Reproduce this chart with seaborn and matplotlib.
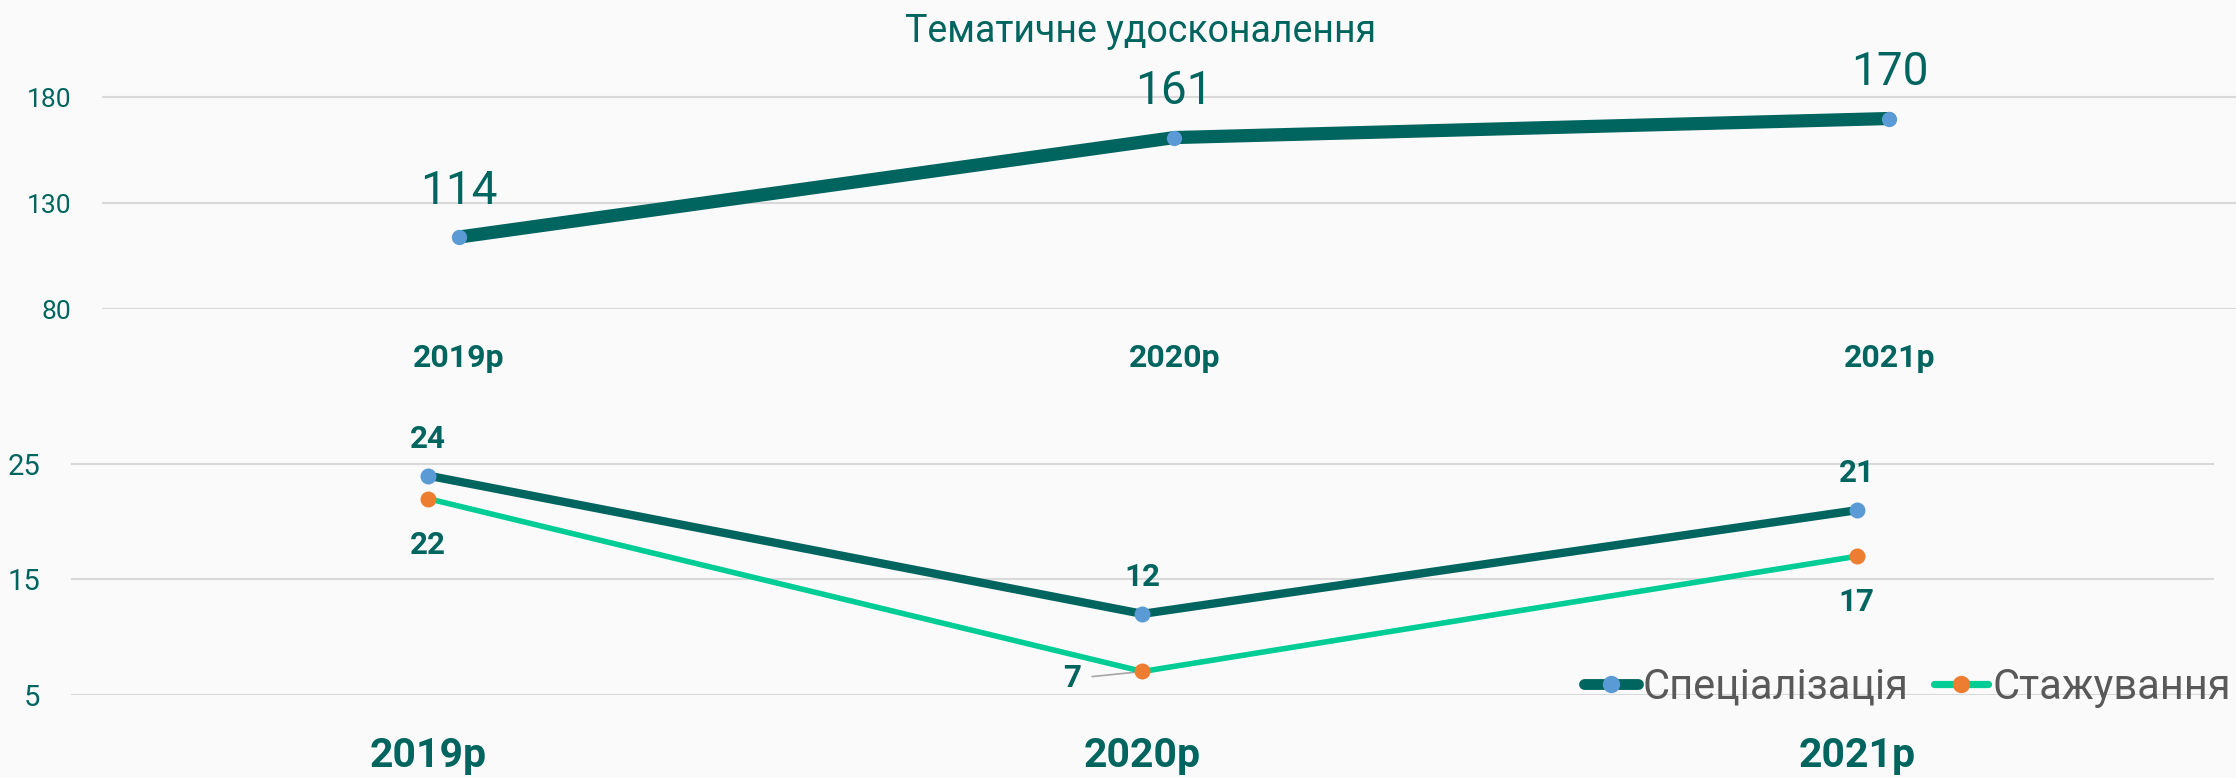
import matplotlib
matplotlib.use("Agg")
import matplotlib.pyplot as plt
import seaborn as sns
import pandas as pd

# ---- data ----
years = ["2019р", "2020р", "2021р"]
thematic = [114, 161, 170]
specialization = [24, 12, 21]
internship = [22, 7, 17]
title_text = "Тематичне удосконалення"
series_names = ["Спеціалізація", "Стажування"]
top_yticks = [80, 130, 180]
bottom_yticks = [5, 15, 25]

# ---- style ----
sns.set_style("white")
plt.rcParams["font.family"] = ["Roboto", "DejaVu Sans"]

TEAL = "#00645F"
MINT = "#00CC96"
BLUE = "#5B9BD5"
ORANGE = "#ED7D31"
GRID = "#D9D9D9"
BG = "#FAFAFA"

fig = plt.figure(figsize=(22.36, 7.78), dpi=100, facecolor=BG)

ax1 = fig.add_axes([0.0454, 0.6028, 0.9595, 0.3265])
ax2 = fig.add_axes([0.03175, 0.1073, 0.9584, 0.3702])

df_top = pd.DataFrame({"year": years, "value": thematic})
df_bot = pd.DataFrame({"year": years, "spec": specialization, "stazh": internship})

sns.lineplot(data=df_top, x="year", y="value", ax=ax1, color=TEAL, linewidth=9.5,
             marker="o", markersize=11, markerfacecolor=BLUE, markeredgecolor=BLUE,
             markeredgewidth=0, errorbar=None, solid_capstyle="round")

sns.lineplot(data=df_bot, x="year", y="spec", ax=ax2, color=TEAL, linewidth=6,
             marker="o", markersize=11.5, markerfacecolor=BLUE, markeredgecolor=BLUE,
             markeredgewidth=0, errorbar=None, label=series_names[0], zorder=3)
sns.lineplot(data=df_bot, x="year", y="stazh", ax=ax2, color=MINT, linewidth=4,
             marker="o", markersize=11.5, markerfacecolor=ORANGE, markeredgecolor=ORANGE,
             markeredgewidth=0, errorbar=None, label=series_names[1], zorder=3)

for ax in (ax1, ax2):
    ax.set_facecolor(BG)
    for s in ax.spines.values():
        s.set_visible(False)
    ax.set_xlim(-0.5, 2.5)
    ax.set_xlabel("")
    ax.set_ylabel("")
    ax.grid(axis="y", color=GRID, linewidth=1.5)
    ax.grid(axis="x", visible=False)
    ax.set_axisbelow(True)
    ax.tick_params(length=0)

ax1.set_ylim(80, 200)
ax1.set_yticks(top_yticks)
ax1.tick_params(axis="y", labelsize=19, labelcolor=TEAL, pad=22)
ax1.set_xticks(range(len(years)))
ax1.set_xticklabels(years, fontsize=23, fontweight="bold", color=TEAL)
ax1.tick_params(axis="x", pad=24.5)

ax2.set_ylim(5, 30)
ax2.set_yticks(bottom_yticks)
ax2.tick_params(axis="y", labelsize=21, labelcolor=TEAL, pad=22)
ax2.set_xticks(range(len(years)))
ax2.set_xticklabels(years, fontsize=29.5, fontweight="bold", color=TEAL)
ax2.tick_params(axis="x", pad=30.5)

# data labels
for i, v in enumerate(thematic):
    ax1.annotate(str(v), (i, v), xytext=(0, 24), textcoords="offset points",
                 ha="center", va="baseline", fontsize=33, color=TEAL)

for i, v in enumerate(specialization):
    ax2.annotate(str(v), (i, v), xytext=(0, 20), textcoords="offset points",
                 ha="center", va="baseline", fontsize=22.5, fontweight="bold", color=TEAL)

for i, v in enumerate(internship):
    if v == min(internship):
        ax2.annotate(str(v), (i, v), xytext=(-51, -11), textcoords="offset points",
                     ha="center", va="baseline", fontsize=22.5, fontweight="bold", color=TEAL,
                     arrowprops=dict(arrowstyle="-", color="#A6A6A6", lw=1.2,
                                     shrinkA=6, shrinkB=0,
                                     relpos=(1.0, 0.5)), zorder=1)
    else:
        ax2.annotate(str(v), (i, v), xytext=(0, -39.5), textcoords="offset points",
                     ha="center", va="baseline", fontsize=22.5, fontweight="bold", color=TEAL)

fig.text(0.5103, 1 - 42 / 778, title_text, ha="center", va="baseline",
         fontsize=27, color=TEAL)

handles, labels = ax2.get_legend_handles_labels()
if ax2.get_legend() is not None:
    ax2.get_legend().remove()
leg = fig.legend(handles, labels, loc="center right", bbox_to_anchor=(0.998, 1 - 687 / 778),
                 ncol=2, fontsize=30, frameon=False, handlelength=1.3, handletextpad=0.12,
                 columnspacing=0.6, labelcolor="#595959", borderpad=0, borderaxespad=0,
                 numpoints=1)
for h in leg.legend_handles:
    h.set_linewidth(h.get_linewidth() * 1.3)
    h.set_markersize(12.5)

fig.savefig("out.png", dpi=100, facecolor=BG)
